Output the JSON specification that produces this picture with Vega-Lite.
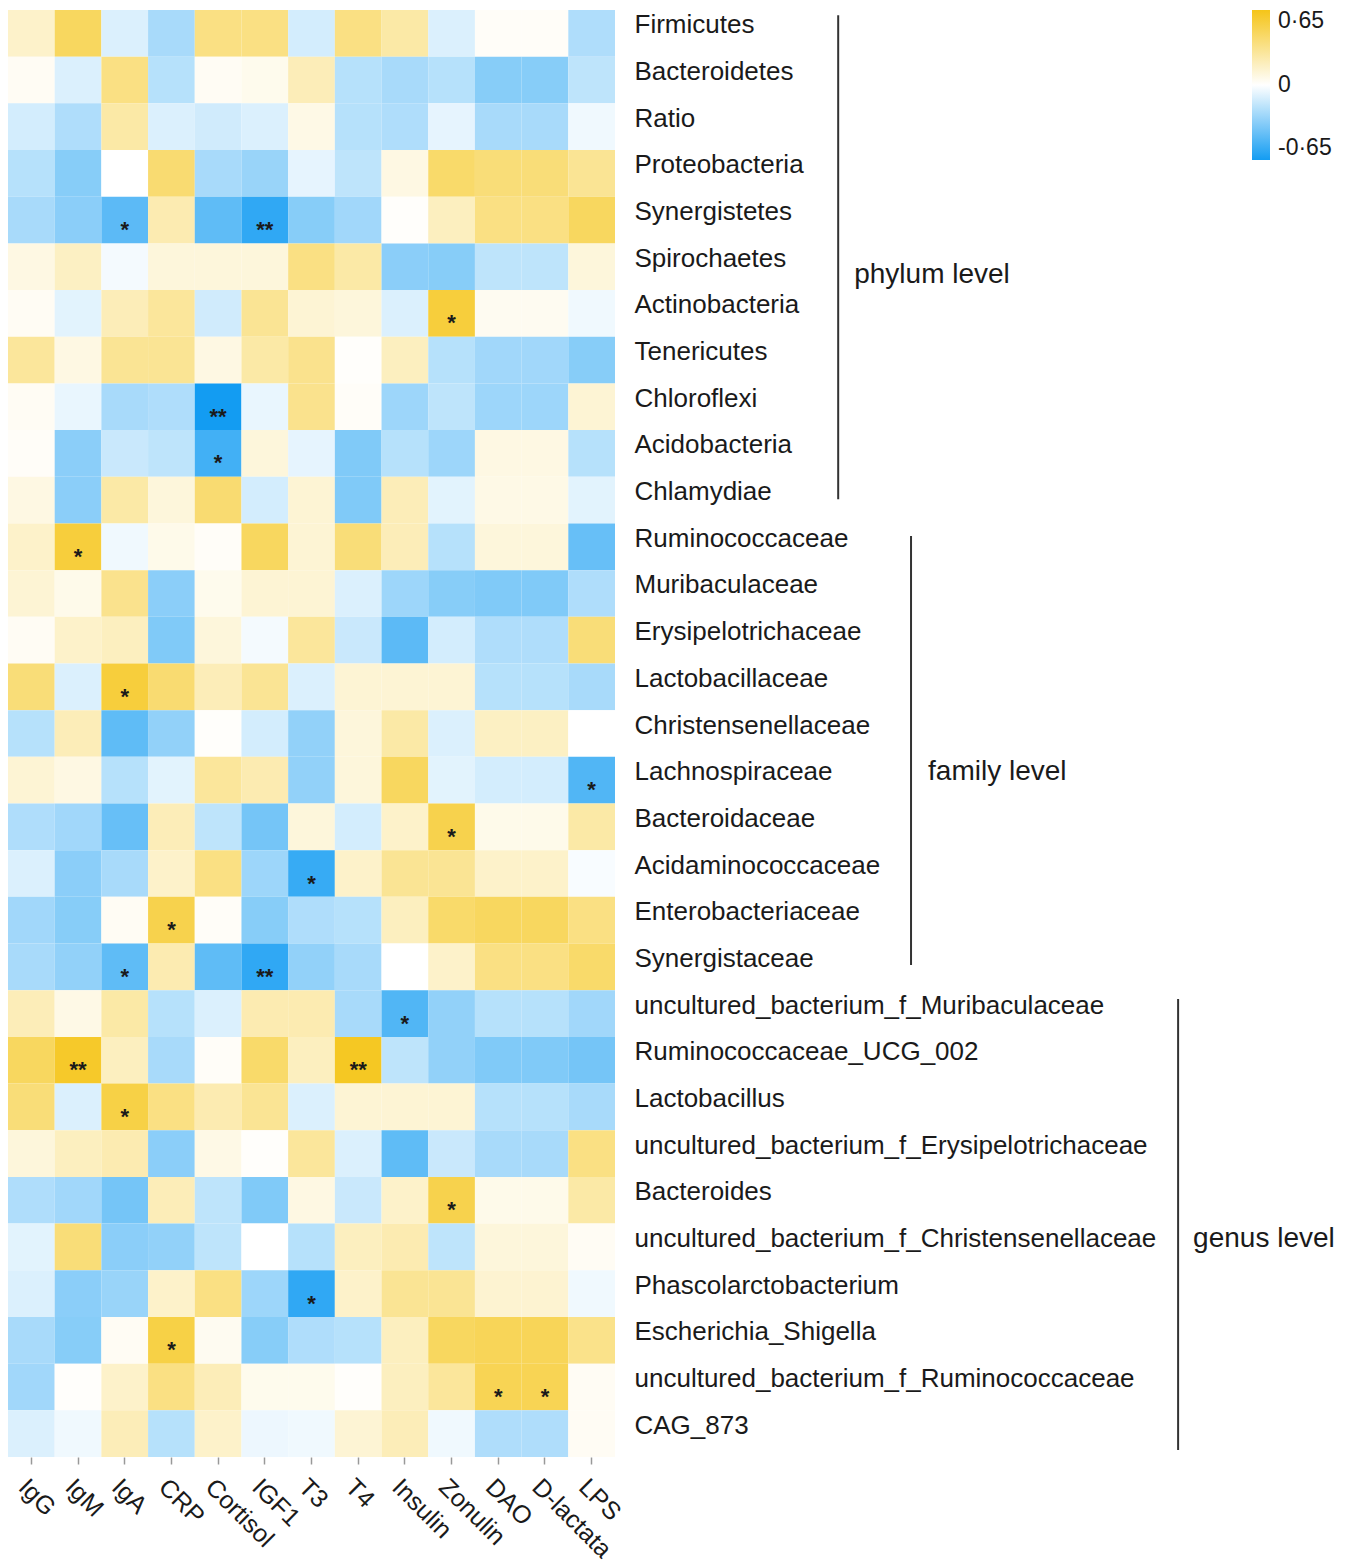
{
"$schema": "https://vega.github.io/schema/vega-lite/v6.json",
"padding": {"left": 8, "top": 10, "right": 0, "bottom": 0},
"autosize": {"type": "pad"},
"width": 607,
"height": 1447,
"config": {"view": {"stroke": null}, "font": "Liberation Sans", "text": {"font": "Liberation Sans"}},
"datasets": {
"groups": [
{"group":"phylum level","first":"Firmicutes","last":"Chlamydiae","mid":"Spirochaetes"},
{"group":"family level","first":"Ruminococcaceae","last":"Synergistaceae","mid":"Lachnospiraceae"},
{"group":"genus level","first":"uncultured_bacterium_f_Muribaculaceae","last":"CAG_873","mid":"uncultured_bacterium_f_Christensenellaceae"}
],
"cells": [
{"taxon":"Firmicutes","variable":"IgG","r":0.15},{"taxon":"Firmicutes","variable":"IgM","r":0.45},{"taxon":"Firmicutes","variable":"IgA","r":-0.1},{"taxon":"Firmicutes","variable":"CRP","r":-0.24},{"taxon":"Firmicutes","variable":"Cortisol","r":0.35},{"taxon":"Firmicutes","variable":"IGF1","r":0.35},{"taxon":"Firmicutes","variable":"T3","r":-0.12},{"taxon":"Firmicutes","variable":"T4","r":0.35},{"taxon":"Firmicutes","variable":"Insulin","r":0.25},{"taxon":"Firmicutes","variable":"Zonulin","r":-0.1},{"taxon":"Firmicutes","variable":"DAO","r":0.02},{"taxon":"Firmicutes","variable":"D-lactata","r":0.02},{"taxon":"Firmicutes","variable":"LPS","r":-0.22},
{"taxon":"Bacteroidetes","variable":"IgG","r":0.03},{"taxon":"Bacteroidetes","variable":"IgM","r":-0.1},{"taxon":"Bacteroidetes","variable":"IgA","r":0.35},{"taxon":"Bacteroidetes","variable":"CRP","r":-0.2},{"taxon":"Bacteroidetes","variable":"Cortisol","r":0.03},{"taxon":"Bacteroidetes","variable":"IGF1","r":0.05},{"taxon":"Bacteroidetes","variable":"T3","r":0.2},{"taxon":"Bacteroidetes","variable":"T4","r":-0.2},{"taxon":"Bacteroidetes","variable":"Insulin","r":-0.24},{"taxon":"Bacteroidetes","variable":"Zonulin","r":-0.2},{"taxon":"Bacteroidetes","variable":"DAO","r":-0.33},{"taxon":"Bacteroidetes","variable":"D-lactata","r":-0.33},{"taxon":"Bacteroidetes","variable":"LPS","r":-0.18},
{"taxon":"Ratio","variable":"IgG","r":-0.12},{"taxon":"Ratio","variable":"IgM","r":-0.22},{"taxon":"Ratio","variable":"IgA","r":0.25},{"taxon":"Ratio","variable":"CRP","r":-0.1},{"taxon":"Ratio","variable":"Cortisol","r":-0.13},{"taxon":"Ratio","variable":"IGF1","r":-0.1},{"taxon":"Ratio","variable":"T3","r":0.07},{"taxon":"Ratio","variable":"T4","r":-0.2},{"taxon":"Ratio","variable":"Insulin","r":-0.22},{"taxon":"Ratio","variable":"Zonulin","r":-0.07},{"taxon":"Ratio","variable":"DAO","r":-0.24},{"taxon":"Ratio","variable":"D-lactata","r":-0.24},{"taxon":"Ratio","variable":"LPS","r":-0.04},
{"taxon":"Proteobacteria","variable":"IgG","r":-0.2},{"taxon":"Proteobacteria","variable":"IgM","r":-0.33},{"taxon":"Proteobacteria","variable":"IgA","r":0},{"taxon":"Proteobacteria","variable":"CRP","r":0.4},{"taxon":"Proteobacteria","variable":"Cortisol","r":-0.24},{"taxon":"Proteobacteria","variable":"IGF1","r":-0.28},{"taxon":"Proteobacteria","variable":"T3","r":-0.07},{"taxon":"Proteobacteria","variable":"T4","r":-0.18},{"taxon":"Proteobacteria","variable":"Insulin","r":0.08},{"taxon":"Proteobacteria","variable":"Zonulin","r":0.42},{"taxon":"Proteobacteria","variable":"DAO","r":0.38},{"taxon":"Proteobacteria","variable":"D-lactata","r":0.38},{"taxon":"Proteobacteria","variable":"LPS","r":0.3},
{"taxon":"Synergistetes","variable":"IgG","r":-0.24},{"taxon":"Synergistetes","variable":"IgM","r":-0.32},{"taxon":"Synergistetes","variable":"IgA","r":-0.45,"sig":"*"},{"taxon":"Synergistetes","variable":"CRP","r":0.22},{"taxon":"Synergistetes","variable":"Cortisol","r":-0.44},{"taxon":"Synergistetes","variable":"IGF1","r":-0.57,"sig":"**"},{"taxon":"Synergistetes","variable":"T3","r":-0.33},{"taxon":"Synergistetes","variable":"T4","r":-0.26},{"taxon":"Synergistetes","variable":"Insulin","r":0.01},{"taxon":"Synergistetes","variable":"Zonulin","r":0.18},{"taxon":"Synergistetes","variable":"DAO","r":0.35},{"taxon":"Synergistetes","variable":"D-lactata","r":0.35},{"taxon":"Synergistetes","variable":"LPS","r":0.45},
{"taxon":"Spirochaetes","variable":"IgG","r":0.08},{"taxon":"Spirochaetes","variable":"IgM","r":0.17},{"taxon":"Spirochaetes","variable":"IgA","r":-0.03},{"taxon":"Spirochaetes","variable":"CRP","r":0.1},{"taxon":"Spirochaetes","variable":"Cortisol","r":0.1},{"taxon":"Spirochaetes","variable":"IGF1","r":0.1},{"taxon":"Spirochaetes","variable":"T3","r":0.35},{"taxon":"Spirochaetes","variable":"T4","r":0.25},{"taxon":"Spirochaetes","variable":"Insulin","r":-0.32},{"taxon":"Spirochaetes","variable":"Zonulin","r":-0.33},{"taxon":"Spirochaetes","variable":"DAO","r":-0.18},{"taxon":"Spirochaetes","variable":"D-lactata","r":-0.18},{"taxon":"Spirochaetes","variable":"LPS","r":0.1},
{"taxon":"Actinobacteria","variable":"IgG","r":0.03},{"taxon":"Actinobacteria","variable":"IgM","r":-0.08},{"taxon":"Actinobacteria","variable":"IgA","r":0.2},{"taxon":"Actinobacteria","variable":"CRP","r":0.28},{"taxon":"Actinobacteria","variable":"Cortisol","r":-0.13},{"taxon":"Actinobacteria","variable":"IGF1","r":0.3},{"taxon":"Actinobacteria","variable":"T3","r":0.12},{"taxon":"Actinobacteria","variable":"T4","r":0.1},{"taxon":"Actinobacteria","variable":"Insulin","r":-0.1},{"taxon":"Actinobacteria","variable":"Zonulin","r":0.55,"sig":"*"},{"taxon":"Actinobacteria","variable":"DAO","r":0.04},{"taxon":"Actinobacteria","variable":"D-lactata","r":0.04},{"taxon":"Actinobacteria","variable":"LPS","r":-0.04},
{"taxon":"Tenericutes","variable":"IgG","r":0.28},{"taxon":"Tenericutes","variable":"IgM","r":0.08},{"taxon":"Tenericutes","variable":"IgA","r":0.3},{"taxon":"Tenericutes","variable":"CRP","r":0.3},{"taxon":"Tenericutes","variable":"Cortisol","r":0.08},{"taxon":"Tenericutes","variable":"IGF1","r":0.25},{"taxon":"Tenericutes","variable":"T3","r":0.32},{"taxon":"Tenericutes","variable":"T4","r":0.01},{"taxon":"Tenericutes","variable":"Insulin","r":0.18},{"taxon":"Tenericutes","variable":"Zonulin","r":-0.2},{"taxon":"Tenericutes","variable":"DAO","r":-0.26},{"taxon":"Tenericutes","variable":"D-lactata","r":-0.26},{"taxon":"Tenericutes","variable":"LPS","r":-0.33},
{"taxon":"Chloroflexi","variable":"IgG","r":0.03},{"taxon":"Chloroflexi","variable":"IgM","r":-0.06},{"taxon":"Chloroflexi","variable":"IgA","r":-0.24},{"taxon":"Chloroflexi","variable":"CRP","r":-0.22},{"taxon":"Chloroflexi","variable":"Cortisol","r":-0.65,"sig":"**"},{"taxon":"Chloroflexi","variable":"IGF1","r":-0.06},{"taxon":"Chloroflexi","variable":"T3","r":0.32},{"taxon":"Chloroflexi","variable":"T4","r":0.02},{"taxon":"Chloroflexi","variable":"Insulin","r":-0.27},{"taxon":"Chloroflexi","variable":"Zonulin","r":-0.18},{"taxon":"Chloroflexi","variable":"DAO","r":-0.27},{"taxon":"Chloroflexi","variable":"D-lactata","r":-0.27},{"taxon":"Chloroflexi","variable":"LPS","r":0.12},
{"taxon":"Acidobacteria","variable":"IgG","r":0.02},{"taxon":"Acidobacteria","variable":"IgM","r":-0.32},{"taxon":"Acidobacteria","variable":"IgA","r":-0.15},{"taxon":"Acidobacteria","variable":"CRP","r":-0.18},{"taxon":"Acidobacteria","variable":"Cortisol","r":-0.52,"sig":"*"},{"taxon":"Acidobacteria","variable":"IGF1","r":0.1},{"taxon":"Acidobacteria","variable":"T3","r":-0.07},{"taxon":"Acidobacteria","variable":"T4","r":-0.35},{"taxon":"Acidobacteria","variable":"Insulin","r":-0.2},{"taxon":"Acidobacteria","variable":"Zonulin","r":-0.27},{"taxon":"Acidobacteria","variable":"DAO","r":0.08},{"taxon":"Acidobacteria","variable":"D-lactata","r":0.08},{"taxon":"Acidobacteria","variable":"LPS","r":-0.2},
{"taxon":"Chlamydiae","variable":"IgG","r":0.08},{"taxon":"Chlamydiae","variable":"IgM","r":-0.32},{"taxon":"Chlamydiae","variable":"IgA","r":0.25},{"taxon":"Chlamydiae","variable":"CRP","r":0.1},{"taxon":"Chlamydiae","variable":"Cortisol","r":0.4},{"taxon":"Chlamydiae","variable":"IGF1","r":-0.12},{"taxon":"Chlamydiae","variable":"T3","r":0.12},{"taxon":"Chlamydiae","variable":"T4","r":-0.35},{"taxon":"Chlamydiae","variable":"Insulin","r":0.2},{"taxon":"Chlamydiae","variable":"Zonulin","r":-0.08},{"taxon":"Chlamydiae","variable":"DAO","r":0.07},{"taxon":"Chlamydiae","variable":"D-lactata","r":0.07},{"taxon":"Chlamydiae","variable":"LPS","r":-0.08},
{"taxon":"Ruminococcaceae","variable":"IgG","r":0.15},{"taxon":"Ruminococcaceae","variable":"IgM","r":0.55,"sig":"*"},{"taxon":"Ruminococcaceae","variable":"IgA","r":-0.04},{"taxon":"Ruminococcaceae","variable":"CRP","r":0.06},{"taxon":"Ruminococcaceae","variable":"Cortisol","r":0.02},{"taxon":"Ruminococcaceae","variable":"IGF1","r":0.45},{"taxon":"Ruminococcaceae","variable":"T3","r":0.12},{"taxon":"Ruminococcaceae","variable":"T4","r":0.38},{"taxon":"Ruminococcaceae","variable":"Insulin","r":0.2},{"taxon":"Ruminococcaceae","variable":"Zonulin","r":-0.2},{"taxon":"Ruminococcaceae","variable":"DAO","r":0.1},{"taxon":"Ruminococcaceae","variable":"D-lactata","r":0.1},{"taxon":"Ruminococcaceae","variable":"LPS","r":-0.42},
{"taxon":"Muribaculaceae","variable":"IgG","r":0.12},{"taxon":"Muribaculaceae","variable":"IgM","r":0.06},{"taxon":"Muribaculaceae","variable":"IgA","r":0.32},{"taxon":"Muribaculaceae","variable":"CRP","r":-0.32},{"taxon":"Muribaculaceae","variable":"Cortisol","r":0.05},{"taxon":"Muribaculaceae","variable":"IGF1","r":0.12},{"taxon":"Muribaculaceae","variable":"T3","r":0.12},{"taxon":"Muribaculaceae","variable":"T4","r":-0.1},{"taxon":"Muribaculaceae","variable":"Insulin","r":-0.27},{"taxon":"Muribaculaceae","variable":"Zonulin","r":-0.33},{"taxon":"Muribaculaceae","variable":"DAO","r":-0.35},{"taxon":"Muribaculaceae","variable":"D-lactata","r":-0.35},{"taxon":"Muribaculaceae","variable":"LPS","r":-0.22},
{"taxon":"Erysipelotrichaceae","variable":"IgG","r":0.03},{"taxon":"Erysipelotrichaceae","variable":"IgM","r":0.15},{"taxon":"Erysipelotrichaceae","variable":"IgA","r":0.18},{"taxon":"Erysipelotrichaceae","variable":"CRP","r":-0.35},{"taxon":"Erysipelotrichaceae","variable":"Cortisol","r":0.1},{"taxon":"Erysipelotrichaceae","variable":"IGF1","r":-0.03},{"taxon":"Erysipelotrichaceae","variable":"T3","r":0.28},{"taxon":"Erysipelotrichaceae","variable":"T4","r":-0.15},{"taxon":"Erysipelotrichaceae","variable":"Insulin","r":-0.45},{"taxon":"Erysipelotrichaceae","variable":"Zonulin","r":-0.12},{"taxon":"Erysipelotrichaceae","variable":"DAO","r":-0.22},{"taxon":"Erysipelotrichaceae","variable":"D-lactata","r":-0.22},{"taxon":"Erysipelotrichaceae","variable":"LPS","r":0.38},
{"taxon":"Lactobacillaceae","variable":"IgG","r":0.38},{"taxon":"Lactobacillaceae","variable":"IgM","r":-0.1},{"taxon":"Lactobacillaceae","variable":"IgA","r":0.55,"sig":"*"},{"taxon":"Lactobacillaceae","variable":"CRP","r":0.4},{"taxon":"Lactobacillaceae","variable":"Cortisol","r":0.2},{"taxon":"Lactobacillaceae","variable":"IGF1","r":0.3},{"taxon":"Lactobacillaceae","variable":"T3","r":-0.1},{"taxon":"Lactobacillaceae","variable":"T4","r":0.12},{"taxon":"Lactobacillaceae","variable":"Insulin","r":0.12},{"taxon":"Lactobacillaceae","variable":"Zonulin","r":0.12},{"taxon":"Lactobacillaceae","variable":"DAO","r":-0.2},{"taxon":"Lactobacillaceae","variable":"D-lactata","r":-0.2},{"taxon":"Lactobacillaceae","variable":"LPS","r":-0.24},
{"taxon":"Christensenellaceae","variable":"IgG","r":-0.2},{"taxon":"Christensenellaceae","variable":"IgM","r":0.2},{"taxon":"Christensenellaceae","variable":"IgA","r":-0.44},{"taxon":"Christensenellaceae","variable":"CRP","r":-0.3},{"taxon":"Christensenellaceae","variable":"Cortisol","r":0.01},{"taxon":"Christensenellaceae","variable":"IGF1","r":-0.12},{"taxon":"Christensenellaceae","variable":"T3","r":-0.3},{"taxon":"Christensenellaceae","variable":"T4","r":0.1},{"taxon":"Christensenellaceae","variable":"Insulin","r":0.25},{"taxon":"Christensenellaceae","variable":"Zonulin","r":-0.1},{"taxon":"Christensenellaceae","variable":"DAO","r":0.17},{"taxon":"Christensenellaceae","variable":"D-lactata","r":0.17},{"taxon":"Christensenellaceae","variable":"LPS","r":0},
{"taxon":"Lachnospiraceae","variable":"IgG","r":0.12},{"taxon":"Lachnospiraceae","variable":"IgM","r":0.08},{"taxon":"Lachnospiraceae","variable":"IgA","r":-0.2},{"taxon":"Lachnospiraceae","variable":"CRP","r":-0.08},{"taxon":"Lachnospiraceae","variable":"Cortisol","r":0.28},{"taxon":"Lachnospiraceae","variable":"IGF1","r":0.22},{"taxon":"Lachnospiraceae","variable":"T3","r":-0.3},{"taxon":"Lachnospiraceae","variable":"T4","r":0.1},{"taxon":"Lachnospiraceae","variable":"Insulin","r":0.45},{"taxon":"Lachnospiraceae","variable":"Zonulin","r":-0.08},{"taxon":"Lachnospiraceae","variable":"DAO","r":-0.12},{"taxon":"Lachnospiraceae","variable":"D-lactata","r":-0.12},{"taxon":"Lachnospiraceae","variable":"LPS","r":-0.48,"sig":"*"},
{"taxon":"Bacteroidaceae","variable":"IgG","r":-0.22},{"taxon":"Bacteroidaceae","variable":"IgM","r":-0.26},{"taxon":"Bacteroidaceae","variable":"IgA","r":-0.42},{"taxon":"Bacteroidaceae","variable":"CRP","r":0.2},{"taxon":"Bacteroidaceae","variable":"Cortisol","r":-0.18},{"taxon":"Bacteroidaceae","variable":"IGF1","r":-0.38},{"taxon":"Bacteroidaceae","variable":"T3","r":0.1},{"taxon":"Bacteroidaceae","variable":"T4","r":-0.12},{"taxon":"Bacteroidaceae","variable":"Insulin","r":0.15},{"taxon":"Bacteroidaceae","variable":"Zonulin","r":0.5,"sig":"*"},{"taxon":"Bacteroidaceae","variable":"DAO","r":0.06},{"taxon":"Bacteroidaceae","variable":"D-lactata","r":0.06},{"taxon":"Bacteroidaceae","variable":"LPS","r":0.25},
{"taxon":"Acidaminococcaceae","variable":"IgG","r":-0.1},{"taxon":"Acidaminococcaceae","variable":"IgM","r":-0.32},{"taxon":"Acidaminococcaceae","variable":"IgA","r":-0.24},{"taxon":"Acidaminococcaceae","variable":"CRP","r":0.15},{"taxon":"Acidaminococcaceae","variable":"Cortisol","r":0.35},{"taxon":"Acidaminococcaceae","variable":"IGF1","r":-0.27},{"taxon":"Acidaminococcaceae","variable":"T3","r":-0.55,"sig":"*"},{"taxon":"Acidaminococcaceae","variable":"T4","r":0.15},{"taxon":"Acidaminococcaceae","variable":"Insulin","r":0.3},{"taxon":"Acidaminococcaceae","variable":"Zonulin","r":0.3},{"taxon":"Acidaminococcaceae","variable":"DAO","r":0.15},{"taxon":"Acidaminococcaceae","variable":"D-lactata","r":0.15},{"taxon":"Acidaminococcaceae","variable":"LPS","r":-0.02},
{"taxon":"Enterobacteriaceae","variable":"IgG","r":-0.26},{"taxon":"Enterobacteriaceae","variable":"IgM","r":-0.33},{"taxon":"Enterobacteriaceae","variable":"IgA","r":0.03},{"taxon":"Enterobacteriaceae","variable":"CRP","r":0.5,"sig":"*"},{"taxon":"Enterobacteriaceae","variable":"Cortisol","r":0.02},{"taxon":"Enterobacteriaceae","variable":"IGF1","r":-0.33},{"taxon":"Enterobacteriaceae","variable":"T3","r":-0.22},{"taxon":"Enterobacteriaceae","variable":"T4","r":-0.2},{"taxon":"Enterobacteriaceae","variable":"Insulin","r":0.18},{"taxon":"Enterobacteriaceae","variable":"Zonulin","r":0.42},{"taxon":"Enterobacteriaceae","variable":"DAO","r":0.45},{"taxon":"Enterobacteriaceae","variable":"D-lactata","r":0.45},{"taxon":"Enterobacteriaceae","variable":"LPS","r":0.35},
{"taxon":"Synergistaceae","variable":"IgG","r":-0.24},{"taxon":"Synergistaceae","variable":"IgM","r":-0.3},{"taxon":"Synergistaceae","variable":"IgA","r":-0.44,"sig":"*"},{"taxon":"Synergistaceae","variable":"CRP","r":0.22},{"taxon":"Synergistaceae","variable":"Cortisol","r":-0.44},{"taxon":"Synergistaceae","variable":"IGF1","r":-0.57,"sig":"**"},{"taxon":"Synergistaceae","variable":"T3","r":-0.3},{"taxon":"Synergistaceae","variable":"T4","r":-0.24},{"taxon":"Synergistaceae","variable":"Insulin","r":0},{"taxon":"Synergistaceae","variable":"Zonulin","r":0.15},{"taxon":"Synergistaceae","variable":"DAO","r":0.35},{"taxon":"Synergistaceae","variable":"D-lactata","r":0.35},{"taxon":"Synergistaceae","variable":"LPS","r":0.42},
{"taxon":"uncultured_bacterium_f_Muribaculaceae","variable":"IgG","r":0.2},{"taxon":"uncultured_bacterium_f_Muribaculaceae","variable":"IgM","r":0.07},{"taxon":"uncultured_bacterium_f_Muribaculaceae","variable":"IgA","r":0.25},{"taxon":"uncultured_bacterium_f_Muribaculaceae","variable":"CRP","r":-0.2},{"taxon":"uncultured_bacterium_f_Muribaculaceae","variable":"Cortisol","r":-0.1},{"taxon":"uncultured_bacterium_f_Muribaculaceae","variable":"IGF1","r":0.22},{"taxon":"uncultured_bacterium_f_Muribaculaceae","variable":"T3","r":0.22},{"taxon":"uncultured_bacterium_f_Muribaculaceae","variable":"T4","r":-0.24},{"taxon":"uncultured_bacterium_f_Muribaculaceae","variable":"Insulin","r":-0.48,"sig":"*"},{"taxon":"uncultured_bacterium_f_Muribaculaceae","variable":"Zonulin","r":-0.3},{"taxon":"uncultured_bacterium_f_Muribaculaceae","variable":"DAO","r":-0.2},{"taxon":"uncultured_bacterium_f_Muribaculaceae","variable":"D-lactata","r":-0.2},{"taxon":"uncultured_bacterium_f_Muribaculaceae","variable":"LPS","r":-0.26},
{"taxon":"Ruminococcaceae_UCG_002","variable":"IgG","r":0.45},{"taxon":"Ruminococcaceae_UCG_002","variable":"IgM","r":0.6,"sig":"**"},{"taxon":"Ruminococcaceae_UCG_002","variable":"IgA","r":0.18},{"taxon":"Ruminococcaceae_UCG_002","variable":"CRP","r":-0.24},{"taxon":"Ruminococcaceae_UCG_002","variable":"Cortisol","r":0.02},{"taxon":"Ruminococcaceae_UCG_002","variable":"IGF1","r":0.42},{"taxon":"Ruminococcaceae_UCG_002","variable":"T3","r":0.18},{"taxon":"Ruminococcaceae_UCG_002","variable":"T4","r":0.62,"sig":"**"},{"taxon":"Ruminococcaceae_UCG_002","variable":"Insulin","r":-0.18},{"taxon":"Ruminococcaceae_UCG_002","variable":"Zonulin","r":-0.3},{"taxon":"Ruminococcaceae_UCG_002","variable":"DAO","r":-0.35},{"taxon":"Ruminococcaceae_UCG_002","variable":"D-lactata","r":-0.35},{"taxon":"Ruminococcaceae_UCG_002","variable":"LPS","r":-0.38},
{"taxon":"Lactobacillus","variable":"IgG","r":0.38},{"taxon":"Lactobacillus","variable":"IgM","r":-0.1},{"taxon":"Lactobacillus","variable":"IgA","r":0.52,"sig":"*"},{"taxon":"Lactobacillus","variable":"CRP","r":0.35},{"taxon":"Lactobacillus","variable":"Cortisol","r":0.22},{"taxon":"Lactobacillus","variable":"IGF1","r":0.3},{"taxon":"Lactobacillus","variable":"T3","r":-0.1},{"taxon":"Lactobacillus","variable":"T4","r":0.12},{"taxon":"Lactobacillus","variable":"Insulin","r":0.12},{"taxon":"Lactobacillus","variable":"Zonulin","r":0.12},{"taxon":"Lactobacillus","variable":"DAO","r":-0.2},{"taxon":"Lactobacillus","variable":"D-lactata","r":-0.2},{"taxon":"Lactobacillus","variable":"LPS","r":-0.24},
{"taxon":"uncultured_bacterium_f_Erysipelotrichaceae","variable":"IgG","r":0.1},{"taxon":"uncultured_bacterium_f_Erysipelotrichaceae","variable":"IgM","r":0.18},{"taxon":"uncultured_bacterium_f_Erysipelotrichaceae","variable":"IgA","r":0.22},{"taxon":"uncultured_bacterium_f_Erysipelotrichaceae","variable":"CRP","r":-0.32},{"taxon":"uncultured_bacterium_f_Erysipelotrichaceae","variable":"Cortisol","r":0.07},{"taxon":"uncultured_bacterium_f_Erysipelotrichaceae","variable":"IGF1","r":0.01},{"taxon":"uncultured_bacterium_f_Erysipelotrichaceae","variable":"T3","r":0.28},{"taxon":"uncultured_bacterium_f_Erysipelotrichaceae","variable":"T4","r":-0.1},{"taxon":"uncultured_bacterium_f_Erysipelotrichaceae","variable":"Insulin","r":-0.44},{"taxon":"uncultured_bacterium_f_Erysipelotrichaceae","variable":"Zonulin","r":-0.15},{"taxon":"uncultured_bacterium_f_Erysipelotrichaceae","variable":"DAO","r":-0.24},{"taxon":"uncultured_bacterium_f_Erysipelotrichaceae","variable":"D-lactata","r":-0.24},{"taxon":"uncultured_bacterium_f_Erysipelotrichaceae","variable":"LPS","r":0.35},
{"taxon":"Bacteroides","variable":"IgG","r":-0.22},{"taxon":"Bacteroides","variable":"IgM","r":-0.26},{"taxon":"Bacteroides","variable":"IgA","r":-0.38},{"taxon":"Bacteroides","variable":"CRP","r":0.2},{"taxon":"Bacteroides","variable":"Cortisol","r":-0.18},{"taxon":"Bacteroides","variable":"IGF1","r":-0.35},{"taxon":"Bacteroides","variable":"T3","r":0.08},{"taxon":"Bacteroides","variable":"T4","r":-0.15},{"taxon":"Bacteroides","variable":"Insulin","r":0.15},{"taxon":"Bacteroides","variable":"Zonulin","r":0.5,"sig":"*"},{"taxon":"Bacteroides","variable":"DAO","r":0.06},{"taxon":"Bacteroides","variable":"D-lactata","r":0.06},{"taxon":"Bacteroides","variable":"LPS","r":0.25},
{"taxon":"uncultured_bacterium_f_Christensenellaceae","variable":"IgG","r":-0.08},{"taxon":"uncultured_bacterium_f_Christensenellaceae","variable":"IgM","r":0.38},{"taxon":"uncultured_bacterium_f_Christensenellaceae","variable":"IgA","r":-0.32},{"taxon":"uncultured_bacterium_f_Christensenellaceae","variable":"CRP","r":-0.3},{"taxon":"uncultured_bacterium_f_Christensenellaceae","variable":"Cortisol","r":-0.18},{"taxon":"uncultured_bacterium_f_Christensenellaceae","variable":"IGF1","r":0},{"taxon":"uncultured_bacterium_f_Christensenellaceae","variable":"T3","r":-0.2},{"taxon":"uncultured_bacterium_f_Christensenellaceae","variable":"T4","r":0.18},{"taxon":"uncultured_bacterium_f_Christensenellaceae","variable":"Insulin","r":0.22},{"taxon":"uncultured_bacterium_f_Christensenellaceae","variable":"Zonulin","r":-0.18},{"taxon":"uncultured_bacterium_f_Christensenellaceae","variable":"DAO","r":0.1},{"taxon":"uncultured_bacterium_f_Christensenellaceae","variable":"D-lactata","r":0.1},{"taxon":"uncultured_bacterium_f_Christensenellaceae","variable":"LPS","r":0.03},
{"taxon":"Phascolarctobacterium","variable":"IgG","r":-0.1},{"taxon":"Phascolarctobacterium","variable":"IgM","r":-0.32},{"taxon":"Phascolarctobacterium","variable":"IgA","r":-0.28},{"taxon":"Phascolarctobacterium","variable":"CRP","r":0.15},{"taxon":"Phascolarctobacterium","variable":"Cortisol","r":0.35},{"taxon":"Phascolarctobacterium","variable":"IGF1","r":-0.27},{"taxon":"Phascolarctobacterium","variable":"T3","r":-0.57,"sig":"*"},{"taxon":"Phascolarctobacterium","variable":"T4","r":0.15},{"taxon":"Phascolarctobacterium","variable":"Insulin","r":0.3},{"taxon":"Phascolarctobacterium","variable":"Zonulin","r":0.3},{"taxon":"Phascolarctobacterium","variable":"DAO","r":0.13},{"taxon":"Phascolarctobacterium","variable":"D-lactata","r":0.13},{"taxon":"Phascolarctobacterium","variable":"LPS","r":-0.04},
{"taxon":"Escherichia_Shigella","variable":"IgG","r":-0.24},{"taxon":"Escherichia_Shigella","variable":"IgM","r":-0.33},{"taxon":"Escherichia_Shigella","variable":"IgA","r":0.03},{"taxon":"Escherichia_Shigella","variable":"CRP","r":0.52,"sig":"*"},{"taxon":"Escherichia_Shigella","variable":"Cortisol","r":0.04},{"taxon":"Escherichia_Shigella","variable":"IGF1","r":-0.33},{"taxon":"Escherichia_Shigella","variable":"T3","r":-0.22},{"taxon":"Escherichia_Shigella","variable":"T4","r":-0.2},{"taxon":"Escherichia_Shigella","variable":"Insulin","r":0.18},{"taxon":"Escherichia_Shigella","variable":"Zonulin","r":0.45},{"taxon":"Escherichia_Shigella","variable":"DAO","r":0.47},{"taxon":"Escherichia_Shigella","variable":"D-lactata","r":0.47},{"taxon":"Escherichia_Shigella","variable":"LPS","r":0.33},
{"taxon":"uncultured_bacterium_f_Ruminococcaceae","variable":"IgG","r":-0.26},{"taxon":"uncultured_bacterium_f_Ruminococcaceae","variable":"IgM","r":0.01},{"taxon":"uncultured_bacterium_f_Ruminococcaceae","variable":"IgA","r":0.15},{"taxon":"uncultured_bacterium_f_Ruminococcaceae","variable":"CRP","r":0.35},{"taxon":"uncultured_bacterium_f_Ruminococcaceae","variable":"Cortisol","r":0.2},{"taxon":"uncultured_bacterium_f_Ruminococcaceae","variable":"IGF1","r":0.05},{"taxon":"uncultured_bacterium_f_Ruminococcaceae","variable":"T3","r":0.05},{"taxon":"uncultured_bacterium_f_Ruminococcaceae","variable":"T4","r":0.01},{"taxon":"uncultured_bacterium_f_Ruminococcaceae","variable":"Insulin","r":0.18},{"taxon":"uncultured_bacterium_f_Ruminococcaceae","variable":"Zonulin","r":0.28},{"taxon":"uncultured_bacterium_f_Ruminococcaceae","variable":"DAO","r":0.48,"sig":"*"},{"taxon":"uncultured_bacterium_f_Ruminococcaceae","variable":"D-lactata","r":0.48,"sig":"*"},{"taxon":"uncultured_bacterium_f_Ruminococcaceae","variable":"LPS","r":0.03},
{"taxon":"CAG_873","variable":"IgG","r":-0.1},{"taxon":"CAG_873","variable":"IgM","r":-0.04},{"taxon":"CAG_873","variable":"IgA","r":0.2},{"taxon":"CAG_873","variable":"CRP","r":-0.2},{"taxon":"CAG_873","variable":"Cortisol","r":0.15},{"taxon":"CAG_873","variable":"IGF1","r":-0.05},{"taxon":"CAG_873","variable":"T3","r":-0.04},{"taxon":"CAG_873","variable":"T4","r":0.12},{"taxon":"CAG_873","variable":"Insulin","r":0.2},{"taxon":"CAG_873","variable":"Zonulin","r":-0.04},{"taxon":"CAG_873","variable":"DAO","r":-0.22},{"taxon":"CAG_873","variable":"D-lactata","r":-0.22},{"taxon":"CAG_873","variable":"LPS","r":0.03}
]
},
"layer": [
{
"data": {"name": "cells"},
"encoding": {
"x": {"field": "variable", "type": "nominal", "title": null,
"scale": {"type": "band", "domain": ["IgG","IgM","IgA","CRP","Cortisol","IGF1","T3","T4","Insulin","Zonulin","DAO","D-lactata","LPS"], "paddingInner": 0, "paddingOuter": 0},
"axis": {"orient": "bottom", "labelAngle": 45, "labelAlign": "left", "labelBaseline": "top", "labelFontSize": 25, "labelColor": "#1a1a1a", "labelPadding": 10, "tickSize": 7, "tickColor": "#999999", "tickWidth": 1.5, "domain": false, "labelFont": "Liberation Sans"}},
"y": {"field": "taxon", "type": "nominal", "title": null,
"scale": {"type": "band", "paddingInner": 0, "paddingOuter": 0, "domain": ["Firmicutes","Bacteroidetes","Ratio","Proteobacteria","Synergistetes","Spirochaetes","Actinobacteria","Tenericutes","Chloroflexi","Acidobacteria","Chlamydiae","Ruminococcaceae","Muribaculaceae","Erysipelotrichaceae","Lactobacillaceae","Christensenellaceae","Lachnospiraceae","Bacteroidaceae","Acidaminococcaceae","Enterobacteriaceae","Synergistaceae","uncultured_bacterium_f_Muribaculaceae","Ruminococcaceae_UCG_002","Lactobacillus","uncultured_bacterium_f_Erysipelotrichaceae","Bacteroides","uncultured_bacterium_f_Christensenellaceae","Phascolarctobacterium","Escherichia_Shigella","uncultured_bacterium_f_Ruminococcaceae","CAG_873"]},
"axis": {"orient": "right", "ticks": false, "tickSize": 0, "domain": false, "labelPadding": 19, "labelFontSize": 26, "labelColor": "#1a1a1a", "labelOffset": -8, "labelFont": "Liberation Sans", "labelLimit": 0}}
},
"layer": [
{"mark": {"type": "rect"},
"encoding": {"color": {"field": "r", "type": "quantitative", "title": null,
"scale": {"domain": [-0.65, 0, 0.65], "range": ["#139CF2", "#FFFFFF", "#F5C518"], "interpolate": "rgb", "clamp": true},
"legend": {"orient": "none", "legendX": 1244, "legendY": 0, "direction": "vertical", "gradientLength": 150, "gradientThickness": 18, "values": [-0.65, 0, 0.65], "labelFontSize": 23, "labelOffset": 8, "labelColor": "#1a1a1a", "labelFont": "Liberation Sans", "labelExpr": "datum.value > 0 ? '0·65' : (datum.value < 0 ? '-0·65' : '0')", "gradientStrokeWidth": 0}}}},
{"mark": {"type": "text", "fontSize": 22, "fontWeight": "bold", "color": "#1a1a1a", "baseline": "alphabetic", "dy": 17, "font": "Liberation Sans"},
"transform": [{"filter": "datum.sig"}],
"encoding": {"text": {"field": "sig", "type": "nominal"}}}
]
},
{
"data": {"name": "groups"},
"transform": [{"filter": "datum.group == 'phylum level'"}],
"layer": [
{"mark": {"type": "rule", "color": "#333333", "strokeWidth": 2},
"encoding": {"x": {"datum": 17.78, "type": "quantitative", "scale": {"domain": [0, 13], "nice": false, "zero": false}, "axis": null},
"y": {"field": "first", "type": "nominal", "bandPosition": 0.11, "title": null, "scale": {"type": "band", "paddingInner": 0, "paddingOuter": 0, "domain": ["Firmicutes","Bacteroidetes","Ratio","Proteobacteria","Synergistetes","Spirochaetes","Actinobacteria","Tenericutes","Chloroflexi","Acidobacteria","Chlamydiae","Ruminococcaceae","Muribaculaceae","Erysipelotrichaceae","Lactobacillaceae","Christensenellaceae","Lachnospiraceae","Bacteroidaceae","Acidaminococcaceae","Enterobacteriaceae","Synergistaceae","uncultured_bacterium_f_Muribaculaceae","Ruminococcaceae_UCG_002","Lactobacillus","uncultured_bacterium_f_Erysipelotrichaceae","Bacteroides","uncultured_bacterium_f_Christensenellaceae","Phascolarctobacterium","Escherichia_Shigella","uncultured_bacterium_f_Ruminococcaceae","CAG_873"]}},
"y2": {"field": "last", "bandPosition": 0.48}}},
{"mark": {"type": "text", "fontSize": 28, "color": "#1a1a1a", "align": "left", "baseline": "middle", "dx": 16, "dy": 8, "font": "Liberation Sans"},
"encoding": {"x": {"datum": 17.78, "type": "quantitative", "scale": {"domain": [0, 13], "nice": false, "zero": false}, "axis": null},
"y": {"field": "mid", "type": "nominal", "title": null},
"text": {"field": "group", "type": "nominal"}}}
]
},
{
"data": {"name": "groups"},
"transform": [{"filter": "datum.group == 'family level'"}],
"layer": [
{"mark": {"type": "rule", "color": "#333333", "strokeWidth": 2},
"encoding": {"x": {"datum": 19.34, "type": "quantitative", "scale": {"domain": [0, 13], "nice": false, "zero": false}, "axis": null},
"y": {"field": "first", "type": "nominal", "bandPosition": 0.27, "title": null},
"y2": {"field": "last", "bandPosition": 0.46}}},
{"mark": {"type": "text", "fontSize": 28, "color": "#1a1a1a", "align": "left", "baseline": "middle", "dx": 17, "dy": -8, "font": "Liberation Sans"},
"encoding": {"x": {"datum": 19.34, "type": "quantitative", "scale": {"domain": [0, 13], "nice": false, "zero": false}, "axis": null},
"y": {"field": "mid", "type": "nominal", "title": null},
"text": {"field": "group", "type": "nominal"}}}
]
},
{
"data": {"name": "groups"},
"transform": [{"filter": "datum.group == 'genus level'"}],
"layer": [
{"mark": {"type": "rule", "color": "#333333", "strokeWidth": 2},
"encoding": {"x": {"datum": 25.06, "type": "quantitative", "scale": {"domain": [0, 13], "nice": false, "zero": false}, "axis": null},
"y": {"field": "first", "type": "nominal", "bandPosition": 0.19, "title": null},
"y2": {"field": "last", "bandPosition": 0.85}}},
{"mark": {"type": "text", "fontSize": 28, "color": "#1a1a1a", "align": "left", "baseline": "middle", "dx": 15, "dy": -8, "font": "Liberation Sans"},
"encoding": {"x": {"datum": 25.06, "type": "quantitative", "scale": {"domain": [0, 13], "nice": false, "zero": false}, "axis": null},
"y": {"field": "mid", "type": "nominal", "title": null},
"text": {"field": "group", "type": "nominal"}}}
]
}
],
"resolve": {"scale": {"x": "independent"}, "axis": {"x": "independent"}}
}
